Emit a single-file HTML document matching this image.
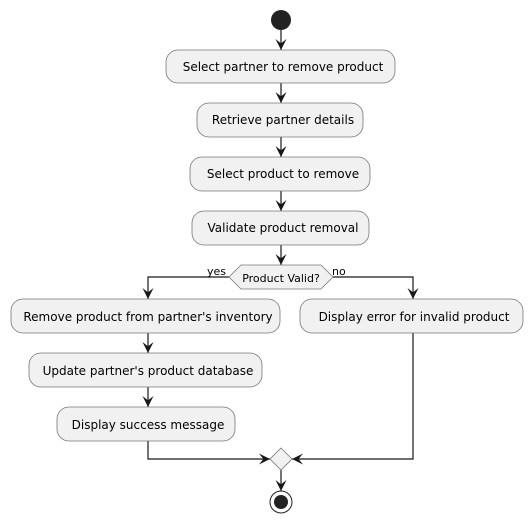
<!DOCTYPE html>
<html><head><meta charset="utf-8"><style>body{margin:0;background:#fff}</style></head><body>
<svg width="532" height="523" xmlns="http://www.w3.org/2000/svg" font-family="'DejaVu Sans',sans-serif">
<defs><marker id="a" viewBox="0 0 10 10" refX="10" refY="5" markerWidth="11" markerHeight="11" markerUnits="userSpaceOnUse" orient="auto"><path d="M0,0 L10,5 L0,10 L4,5 Z" fill="#181818"/></marker></defs>
<g stroke="#181818" stroke-width="1.2" fill="none">
<line x1="281" y1="30" x2="281" y2="50" marker-end="url(#a)"/>
<line x1="281" y1="83" x2="281" y2="103" marker-end="url(#a)"/>
<line x1="281" y1="137" x2="281" y2="157" marker-end="url(#a)"/>
<line x1="281" y1="191" x2="281" y2="211" marker-end="url(#a)"/>
<line x1="281" y1="245" x2="281" y2="265" marker-end="url(#a)"/>
<polyline points="229,277 148,277 148,299" marker-end="url(#a)"/>
<polyline points="333,277 413,277 413,299" marker-end="url(#a)"/>
<line x1="148" y1="333" x2="148" y2="353" marker-end="url(#a)"/>
<line x1="148" y1="387" x2="148" y2="407" marker-end="url(#a)"/>
<polyline points="148,441 148,459 270,459" marker-end="url(#a)"/>
<polyline points="413,333 413,459 292,459" marker-end="url(#a)"/>
<line x1="281" y1="470" x2="281" y2="491" marker-end="url(#a)"/>
</g>
<circle cx="281" cy="20" r="10" fill="#222"/>
<g fill="#f1f1f1" stroke="#777" stroke-width="0.8">
<rect x="166" y="50" width="229" height="33" rx="12"/>
<rect x="197" y="103" width="166" height="34" rx="12"/>
<rect x="190" y="157" width="180" height="34" rx="12"/>
<rect x="192" y="211" width="177" height="34" rx="12"/>
<polygon points="229,277 241,265 321,265 333,277 321,289 241,289"/>
<rect x="11" y="299" width="269" height="34" rx="12"/>
<rect x="29" y="353" width="233" height="34" rx="12"/>
<rect x="57" y="407" width="178" height="34" rx="12"/>
<rect x="300" y="299" width="223" height="34" rx="12"/>
<polygon points="281,448 292,459 281,470 270,459"/>
</g>
<circle cx="281" cy="502" r="11" fill="none" stroke="#222" stroke-width="1"/>
<circle cx="281" cy="502" r="7" fill="#222"/>
<g font-size="12" fill="#000" text-anchor="middle">
<text x="283" y="71">Select partner to remove product</text>
<text x="283" y="124">Retrieve partner details</text>
<text x="283" y="178">Select product to remove</text>
<text x="283" y="232">Validate product removal</text>
<text x="148" y="321">Remove product from partner's inventory</text>
<text x="148" y="375">Update partner's product database</text>
<text x="148" y="429">Display success message</text>
<text x="414" y="321">Display error for invalid product</text>
</g>
<text x="281" y="282" font-size="11" text-anchor="middle">Product Valid?</text>
<text x="207" y="275" font-size="11">yes</text>
<text x="332" y="275" font-size="11">no</text>
</svg>
</body></html>
